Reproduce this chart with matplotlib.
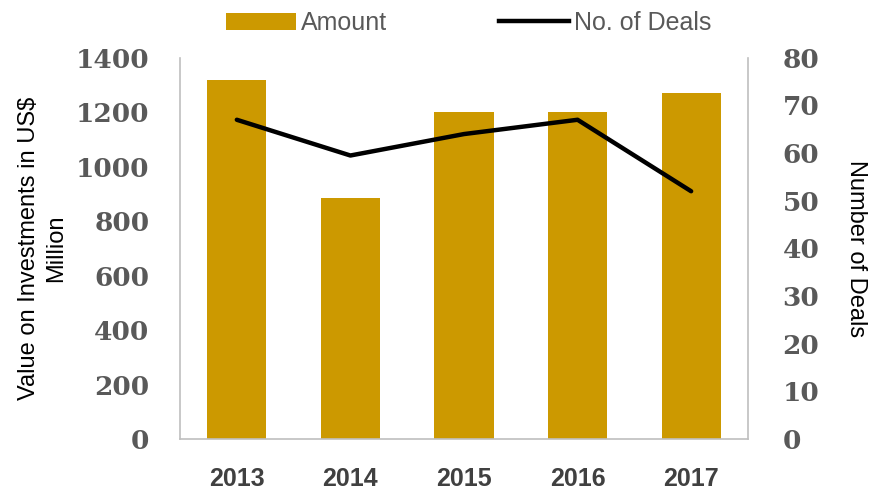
import numpy as np
import matplotlib.pyplot as plt
from matplotlib.patches import Patch
from matplotlib.lines import Line2D

# Data
years = ['2013', '2014', '2015', '2016', '2017']
amount = [1320, 885, 1200, 1200, 1272]
deals = [67, 59.5, 64, 67, 52]

bar_color = '#CC9900'
tick_color = '#595959'
spine_color = '#BFBFBF'

fig = plt.figure(figsize=(8.71, 4.90), dpi=100)
ax = fig.add_axes([0.2067, 0.104, 0.652, 0.778])
x = np.arange(len(years))
ax.bar(x, amount, width=0.52, color=bar_color, zorder=2)
ax.set_xlim(-0.5, 4.5)
ax.set_ylim(0, 1400)
ax.set_yticks(range(0, 1401, 200))
ax.set_xticks(x)
ax.set_xticklabels(years, fontfamily='Liberation Sans', fontweight='bold',
                   fontsize=18, color='#404040')
for lab in ax.get_yticklabels():
    lab.set_fontfamily('DejaVu Serif')
    lab.set_fontweight('bold')
    lab.set_fontsize(19)
    lab.set_color(tick_color)
ax.tick_params(axis='y', length=0, pad=22)
ax.tick_params(axis='x', length=0, pad=20)
ax.set_ylabel('Value on Investments in US$\nMillion', fontfamily='Liberation Sans',
              fontsize=17, color='black', labelpad=6, linespacing=1.35)
ax.spines['top'].set_visible(False)
for s in ['left', 'right', 'bottom']:
    ax.spines[s].set_color(spine_color)
    ax.spines[s].set_linewidth(1.2)

ax2 = ax.twinx()
ax2.plot(x, deals, color='black', lw=3.2, solid_capstyle='round')
ax2.set_ylim(0, 80)
ax2.set_yticks(range(0, 81, 10))
for lab in ax2.get_yticklabels():
    lab.set_fontfamily('DejaVu Serif')
    lab.set_fontweight('bold')
    lab.set_fontsize(19)
    lab.set_color(tick_color)
ax2.tick_params(axis='y', length=0, pad=25)
ax2.set_ylabel('Number of Deals', fontfamily='Liberation Sans', fontsize=17,
               color='black', rotation=270, labelpad=34)
for s in ax2.spines.values():
    s.set_visible(False)

handles = [Patch(facecolor=bar_color, edgecolor='none', label='Amount'),
           Line2D([0], [0], color='black', lw=3.2, label='No. of Deals')]
fig.legend(handles=handles, loc='center', bbox_to_anchor=(0.538, 0.953), ncol=2,
           frameon=False, prop={'family': 'Liberation Sans', 'size': 18},
           labelcolor=tick_color, handlelength=2.8, handleheight=0.68,
           handletextpad=0.2, columnspacing=4.5)

fig.savefig('out.png', dpi=100)
